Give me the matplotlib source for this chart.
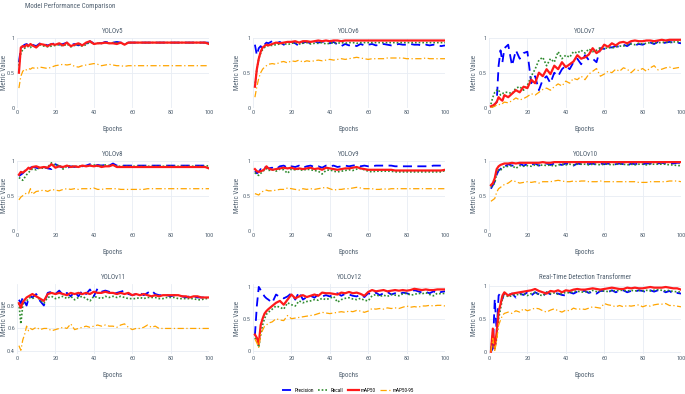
import numpy as np
import matplotlib.pyplot as plt

plt.rcParams['font.family'] = ['Roboto Condensed', 'Open Sans Condensed', 'Open Sans', 'DejaVu Sans']

# epochs sampled: every epoch up to 8, then every second epoch
epochs = [1, 2, 3, 4, 5, 6, 7, 8] + list(range(10, 101, 2))

# values in percent
v5_prec = [65, 85, 88, 90, 91, 89, 92, 90, 88, 92, 91, 89, 91, 92, 90, 91, 93, 90, 91, 89, 92, 91, 95,
           92, 93, 92, 94, 93, 93, 94, 93, 92, 93, 93, 93, 93, 93, 93, 93, 93, 93, 93, 93, 93, 93, 93, 93, 93,
           93, 93, 93, 93, 93, 93]
v5_rec = [60, 78, 83, 85, 86, 88, 86, 89, 87, 90, 88, 87, 88, 89, 90, 88, 91, 87, 89, 90, 88, 90, 94,
          91, 92, 92, 93, 92, 93, 93, 92, 91, 93, 93, 93, 93, 93, 93, 93, 93, 93, 93, 93, 93, 93, 93, 93, 93,
          93, 93, 93, 93, 93, 92]
v5_map50 = [50, 86, 88, 87, 90, 88, 91, 89, 86, 91, 90, 88, 91, 90, 92, 89, 93, 88, 90, 92, 89, 93, 95,
            91, 92, 92, 93, 92, 92, 91, 93, 90, 93, 93, 93, 93, 93, 93, 93, 93, 93, 93, 93, 93, 93, 93, 93, 93,
            93, 93, 93, 93, 93, 91]
v5_map5095 = [28, 45, 52, 55, 54, 56, 55, 57, 56, 58, 57, 56, 58, 60, 61, 62, 61, 62, 59, 58, 60, 61, 62,
              63, 62, 60, 61, 62, 61, 60, 60, 59, 60, 60, 60, 60, 60, 60, 60, 60, 60, 60, 60, 60, 60, 60, 60, 60,
              60, 60, 60, 60, 60, 60]

v6_prec = [90, 75, 85, 88, 84, 90, 93, 92, 95, 92, 94, 90, 93, 94, 92, 88, 93, 94, 92, 95, 93, 94, 95,
           92, 94, 90, 88, 91, 89, 90, 88, 91, 89, 90, 91, 89, 90, 91, 90, 89, 90, 91, 90, 90, 91, 90, 90, 89,
           90, 89, 90, 89, 88, 89]
v6_rec = [30, 55, 70, 78, 83, 86, 88, 89, 89, 90, 91, 92, 90, 92, 93, 91, 92, 93, 91, 92, 92, 93, 91,
          92, 93, 92, 93, 92, 93, 93, 92, 93, 93, 93, 93, 93, 93, 93, 93, 93, 93, 93, 93, 93, 93, 93, 93, 93,
          93, 93, 93, 93, 93, 93]
v6_map50 = [30, 55, 70, 80, 86, 88, 90, 89, 91, 93, 92, 93, 94, 94, 95, 93, 95, 95, 94, 95, 96, 95, 96,
            95, 96, 96, 95, 96, 96, 96, 96, 96, 96, 96, 96, 96, 96, 96, 96, 96, 96, 96, 96, 96, 96, 96, 96, 96,
            96, 96, 96, 96, 96, 96]
v6_map5095 = [15, 30, 42, 50, 55, 58, 60, 62, 63, 62, 65, 66, 64, 67, 66, 68, 65, 67, 66, 67, 68, 67, 68,
              69, 68, 69, 70, 69, 70, 71, 72, 71, 70, 69, 70, 70, 70, 70, 71, 71, 71, 71, 71, 70, 70, 70, 70, 70,
              71, 70, 70, 70, 70, 70]

v7_prec = [0, 2, 5, 8, 60, 82, 65, 85, 90, 60, 82, 70, 78, 80, 35, 45, 25, 40, 45, 35, 50, 45, 55,
           60, 55, 65, 70, 62, 75, 68, 70, 65, 85, 84, 87, 86, 88, 87, 90, 88, 92, 89, 91, 90, 92, 93, 91, 94,
           92, 93, 94, 93, 93, 92]
v7_rec = [5, 15, 22, 25, 26, 18, 20, 22, 22, 20, 28, 30, 25, 32, 45, 55, 68, 72, 60, 70, 65, 80, 70,
          75, 72, 80, 78, 82, 78, 84, 80, 82, 86, 84, 86, 85, 87, 88, 88, 90, 91, 90, 92, 91, 92, 93, 92, 93,
          93, 94, 93, 94, 94, 94]
v7_map50 = [2, 3, 5, 8, 15, 12, 10, 18, 15, 20, 25, 22, 30, 28, 40, 35, 50, 45, 55, 48, 60, 55, 65,
            58, 62, 66, 75, 70, 72, 76, 85, 78, 82, 90, 87, 92, 89, 93, 94, 92, 95, 96, 95, 95, 96, 96, 95, 96,
            97, 96, 97, 97, 97, 97]
v7_map5095 = [0, 1, 2, 4, 5, 4, 6, 8, 7, 10, 14, 11, 13, 16, 20, 18, 22, 26, 28, 25, 30, 34, 31,
              38, 35, 42, 40, 45, 40, 48, 52, 56, 45, 48, 52, 50, 55, 52, 57, 55, 50, 55, 53, 56, 52, 57, 60, 54,
              55, 57, 58, 56, 57, 58]

v8_prec = [78, 80, 82, 85, 88, 87, 90, 91, 90, 88, 91, 89, 88, 95, 92, 90, 89, 92, 91, 93, 92, 93, 95,
           92, 94, 93, 94, 93, 96, 93, 93, 93, 93, 93, 93, 93, 93, 93, 93, 93, 93, 93, 93, 93, 93, 93, 93, 93,
           93, 93, 93, 93, 93, 92]
v8_rec = [76, 74, 72, 76, 80, 83, 86, 88, 87, 90, 89, 91, 97, 93, 94, 88, 92, 93, 91, 92, 93, 92, 93,
          94, 92, 93, 94, 93, 94, 92, 92, 92, 92, 92, 92, 92, 92, 92, 92, 92, 92, 92, 92, 92, 92, 92, 92, 92,
          92, 92, 92, 92, 92, 93]
v8_map50 = [80, 84, 83, 85, 87, 90, 88, 91, 92, 90, 91, 90, 95, 90, 92, 91, 93, 91, 92, 91, 93, 92, 93,
            92, 93, 91, 92, 92, 94, 91, 91, 91, 91, 91, 91, 91, 91, 91, 91, 91, 91, 91, 91, 91, 91, 91, 91, 91,
            91, 91, 91, 91, 91, 89]
v8_map5095 = [44, 48, 50, 52, 54, 53, 60, 52, 56, 57, 58, 56, 59, 58, 57, 59, 60, 59, 60, 59, 60, 60, 60,
              61, 59, 59, 60, 60, 60, 60, 59, 59, 59, 59, 59, 59, 59, 60, 60, 60, 60, 60, 60, 60, 60, 60, 60, 60,
              60, 60, 60, 60, 60, 60]

v9_prec = [85, 82, 84, 88, 86, 90, 91, 89, 90, 88, 92, 93, 90, 92, 91, 93, 90, 92, 93, 91, 92, 90, 93,
           92, 93, 91, 92, 93, 92, 93, 94, 92, 93, 92, 92, 93, 93, 93, 93, 93, 92, 92, 92, 92, 92, 92, 92, 92,
           92, 92, 93, 93, 93, 92]
v9_rec = [83, 80, 79, 82, 84, 87, 89, 86, 87, 85, 88, 87, 82, 88, 87, 88, 86, 88, 87, 86, 85, 81, 86,
          87, 85, 84, 85, 86, 87, 86, 88, 89, 87, 85, 84, 85, 85, 85, 85, 85, 84, 84, 84, 84, 84, 84, 84, 84,
          84, 84, 84, 84, 84, 86]
v9_map50 = [88, 85, 84, 85, 86, 88, 92, 89, 87, 88, 89, 90, 89, 90, 88, 89, 88, 89, 90, 88, 89, 87, 90,
            89, 88, 87, 88, 89, 89, 90, 91, 89, 88, 87, 87, 87, 87, 87, 87, 87, 86, 86, 86, 86, 86, 86, 86, 86,
            86, 86, 86, 86, 86, 87]
v9_map5095 = [53, 52, 51, 54, 56, 57, 58, 57, 57, 58, 59, 59, 61, 60, 59, 58, 60, 59, 60, 59, 60, 61, 62,
              60, 58, 59, 59, 60, 60, 61, 62, 61, 60, 60, 60, 59, 59, 60, 59, 60, 60, 60, 60, 60, 60, 60, 60, 60,
              60, 60, 60, 60, 60, 60]

v10_prec = [60, 65, 70, 80, 86, 88, 92, 91, 95, 93, 94, 96, 93, 95, 94, 96, 93, 95, 96, 94, 96, 95, 94,
            96, 95, 93, 96, 95, 96, 95, 96, 94, 96, 95, 96, 94, 95, 96, 95, 93, 96, 95, 96, 95, 96, 96, 95, 96,
            97, 96, 97, 96, 97, 97]
v10_rec = [62, 65, 68, 82, 87, 86, 90, 91, 92, 93, 89, 93, 92, 93, 92, 94, 93, 94, 93, 94, 92, 94, 95,
           94, 95, 94, 95, 95, 95, 94, 95, 95, 94, 95, 95, 94, 95, 95, 95, 94, 95, 94, 95, 95, 94, 95, 95, 95,
           95, 95, 94, 94, 93, 93]
v10_map50 = [65, 68, 75, 88, 92, 94, 95, 96, 96, 97, 96, 97, 97, 97, 97, 97, 97, 98, 97, 97, 98, 98, 98,
             98, 98, 98, 98, 98, 98, 98, 98, 98, 98, 98, 98, 98, 98, 98, 98, 98, 98, 98, 98, 98, 98, 98, 98, 98,
             98, 98, 98, 98, 98, 98]
v10_map5095 = [42, 44, 46, 55, 60, 62, 64, 66, 68, 72, 70, 68, 69, 70, 69, 70, 68, 70, 70, 70, 71, 72, 71,
               70, 70, 71, 70, 71, 71, 70, 70, 70, 71, 70, 70, 70, 70, 70, 70, 70, 70, 70, 69, 69, 69, 70, 70, 70,
               70, 70, 71, 71, 71, 70]

v11_prec = [85, 82, 87, 83, 80, 86, 88, 87, 90, 84, 80, 91, 92, 90, 93, 89, 91, 88, 92, 88, 93, 90, 94,
            88, 95, 92, 93, 92, 90, 91, 92, 93, 90, 89, 90, 91, 89, 91, 93, 90, 89, 89, 89, 88, 89, 89, 88, 87,
            88, 88, 87, 87, 87, 87]
v11_rec = [82, 64, 80, 85, 84, 86, 87, 86, 88, 85, 82, 87, 88, 86, 87, 88, 86, 88, 85, 87, 88, 86, 84,
           88, 87, 86, 88, 87, 88, 87, 88, 87, 86, 86, 86, 87, 86, 87, 87, 87, 86, 86, 87, 87, 87, 86, 86, 86,
           86, 86, 85, 85, 86, 86]
v11_map50 = [82, 78, 83, 85, 87, 88, 89, 90, 88, 86, 84, 90, 91, 90, 91, 90, 89, 91, 90, 91, 90, 91, 90,
             92, 91, 91, 92, 91, 91, 90, 91, 90, 91, 89, 90, 89, 90, 89, 88, 89, 88, 89, 89, 89, 89, 89, 88, 88,
             87, 88, 88, 87, 87, 87]
v11_map5095 = [45, 41, 50, 55, 62, 58, 60, 59, 61, 59, 60, 60, 58, 59, 60, 61, 60, 64, 59, 60, 61, 62, 61,
               62, 63, 62, 63, 62, 62, 61, 63, 64, 61, 59, 60, 60, 61, 63, 61, 62, 60, 60, 60, 60, 60, 60, 60, 60,
               60, 60, 60, 60, 60, 60]

v12_prec = [24, 70, 100, 95, 90, 85, 82, 80, 75, 88, 84, 82, 85, 90, 80, 92, 80, 84, 86, 83, 88, 85, 87,
            85, 88, 90, 86, 89, 88, 86, 85, 88, 84, 90, 88, 91, 87, 90, 92, 88, 90, 88, 91, 90, 88, 95, 93, 91,
            92, 90, 93, 90, 92, 93]
v12_rec = [20, 15, 5, 25, 40, 50, 57, 60, 65, 70, 68, 65, 75, 72, 70, 78, 75, 77, 78, 80, 79, 82, 80,
           82, 85, 76, 80, 82, 83, 81, 80, 82, 79, 78, 86, 88, 85, 87, 85, 88, 87, 86, 89, 90, 87, 88, 90, 89,
           91, 88, 86, 90, 89, 90]
v12_map50 = [25, 20, 10, 40, 50, 58, 62, 65, 70, 75, 78, 72, 80, 88, 82, 85, 87, 84, 86, 88, 86, 91, 90,
             90, 89, 88, 91, 90, 92, 90, 91, 89, 86, 92, 95, 93, 94, 95, 93, 94, 95, 94, 95, 94, 95, 97, 96, 95,
             96, 95, 95, 96, 96, 96]
v12_map5095 = [18, 12, 5, 25, 32, 38, 40, 43, 45, 50, 48, 47, 55, 50, 51, 52, 53, 54, 55, 56, 58, 60, 59,
               58, 59, 60, 61, 60, 62, 61, 63, 62, 60, 62, 66, 65, 66, 65, 67, 66, 67, 66, 68, 70, 68, 69, 68, 70,
               70, 71, 70, 71, 71, 70]

rt_prec = [0, 5, 80, 30, 85, 89, 80, 90, 86, 88, 82, 88, 86, 90, 85, 90, 87, 84, 90, 87, 89, 88, 86,
           85, 90, 88, 91, 92, 92, 89, 91, 88, 92, 92, 90, 93, 90, 92, 93, 90, 92, 91, 93, 92, 90, 93, 91, 93,
           93, 90, 92, 88, 89, 88]
rt_rec = [0, 30, 5, 20, 50, 65, 80, 88, 83, 85, 87, 86, 88, 85, 88, 90, 86, 85, 90, 88, 89, 87, 88,
          90, 89, 91, 92, 90, 91, 90, 93, 91, 92, 92, 91, 93, 92, 93, 93, 92, 93, 92, 93, 92, 93, 92, 93, 94,
          93, 92, 93, 91, 91, 90]
rt_map50 = [0, 35, 5, 30, 60, 72, 85, 90, 85, 88, 89, 90, 91, 92, 93, 95, 92, 90, 88, 92, 91, 93, 90,
            93, 92, 94, 95, 94, 94, 95, 96, 95, 94, 95, 96, 97, 96, 95, 95, 97, 96, 97, 96, 96, 97, 98, 97, 97,
            97, 98, 97, 96, 96, 94]
rt_map5095 = [0, 20, 2, 18, 40, 48, 55, 58, 60, 58, 62, 60, 65, 62, 64, 66, 65, 62, 60, 63, 65, 62, 60,
              63, 62, 66, 64, 65, 64, 66, 68, 67, 66, 73, 71, 70, 68, 70, 68, 70, 69, 70, 71, 68, 70, 69, 71, 72,
              72, 73, 70, 70, 69, 68]

titles = ['YOLOv5', 'YOLOv6', 'YOLOv7', 'YOLOv8', 'YOLOv9', 'YOLOv10',
          'YOLOv11', 'YOLOv12', 'Real-Time Detection Transformer']
series = [
    (v5_prec, v5_rec, v5_map50, v5_map5095),
    (v6_prec, v6_rec, v6_map50, v6_map5095),
    (v7_prec, v7_rec, v7_map50, v7_map5095),
    (v8_prec, v8_rec, v8_map50, v8_map5095),
    (v9_prec, v9_rec, v9_map50, v9_map5095),
    (v10_prec, v10_rec, v10_map50, v10_map5095),
    (v11_prec, v11_rec, v11_map50, v11_map5095),
    (v12_prec, v12_rec, v12_map50, v12_map5095),
    (rt_prec, rt_rec, rt_map50, rt_map5095),
]
labels = ['Precision', 'Recall', 'mAP50', 'mAP50-95']
colors = ['#0000ff', '#2e8b2e', '#ff1a1a', '#ffa500']
styles = [(0, (5, 3)), (0, (1, 1.2)), '-', (0, (5, 2, 1, 2))]
widths = [1.3, 1.2, 1.6, 0.9]

ylims = [(0, 1)] * 6 + [(0.38, 0.99), (-0.05, 1.05), (-0.03, 1.03)]
yticks = [[0, 0.5, 1]] * 6 + [[0.4, 0.6, 0.8], [0, 0.5, 1], [0, 0.5, 1]]
xlims = [(0, 100)] * 6 + [(1, 100)] * 3

W, H = 685, 394
col_left = [17, 253, 489]
row_top = [37.7, 160.7, 283.7]
aw, ah = 192, 70
ylab_x = [-0.048, -0.065, -0.058]
txt = '#506070'
grid = '#e8edf4'

fig = plt.figure(figsize=(W / 100, H / 100), dpi=100)
x = np.array(epochs)

for i in range(9):
    r, c = divmod(i, 3)
    ax = fig.add_axes([col_left[c] / W, 1 - (row_top[r] + ah) / H, aw / W, ah / H])
    for k in range(4):
        ax.plot(x, np.array(series[i][k]) / 100, color=colors[k], linestyle=styles[k],
                linewidth=widths[k], label=labels[k])
    ax.set_xlim(*xlims[i])
    ax.set_ylim(*ylims[i])
    ax.set_xticks([0, 20, 40, 60, 80, 100])
    ax.set_yticks(yticks[i])
    ax.set_yticklabels([('%g' % t) for t in yticks[i]])
    for s in ax.spines.values():
        s.set_visible(False)
    ax.grid(True, color=grid, linewidth=0.6)
    ax.set_axisbelow(True)
    ax.tick_params(length=0, labelsize=4.5, colors=txt, pad=1.5)
    ax.set_title(titles[i], fontsize=5, color=txt, pad=3.5)
    ax.set_xlabel('Epochs', fontsize=5, color=txt)
    ax.set_ylabel('Metric Value', fontsize=5, color=txt)
    ax.xaxis.set_label_coords(0.5, -0.26)
    ax.yaxis.set_label_coords(ylab_x[c], 0.5)

fig.text(25 / W, 1 - 6 / H, 'Model Performance Comparison', fontsize=5, color=txt, va='center')

handles, lbls = ax.get_legend_handles_labels()
fig.legend(handles, lbls, loc='center', bbox_to_anchor=(348 / W, 1 - 390 / H), ncol=4,
           frameon=False, fontsize=3.8, handlelength=2.0, columnspacing=0.8, handletextpad=0.4)

fig.savefig('out.png', dpi=100, facecolor='white')
